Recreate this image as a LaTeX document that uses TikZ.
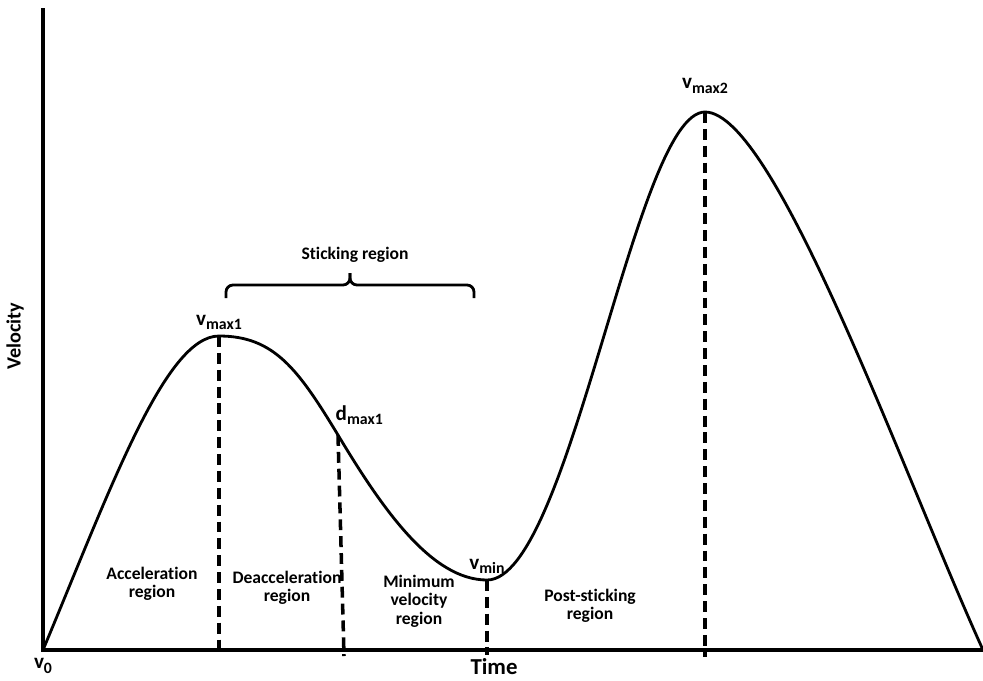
\documentclass[tikz,border=0pt]{standalone}
\usepackage{fontspec}
\setmainfont{Carlito}[Ligatures={TeX,NoCommon}]
\usetikzlibrary{positioning}
\newcommand{\lowidx}[1]{\raisebox{-2.5pt}{\fontsize{9}{9}\selectfont #1}}
\tikzset{
	every picture/.style={/utils/exec={\bfseries}},
	axisline/.style={line width=1.8pt, line join=miter},
	curve/.style={line width=1.6pt},
	dropline/.style={line width=2pt, dash pattern=on 6.2pt off 3.4pt},
	bracket/.style={line width=1.6pt, rounded corners=4pt},
	region/.style={align=center, font=\fontsize{10}{10.5}\selectfont\bfseries},
	peak/.style={font=\fontsize{12}{14}\selectfont\bfseries, inner sep=0.5pt},
	bigtext/.style={font=\fontsize{#1}{#1}\selectfont\bfseries},
}

\begin{document}
\begin{tikzpicture}[x=0.02cm, y=-0.02cm]
	\useasboundingbox (0,0) rectangle (983,680);
	\coordinate (ytop) at (43,8);
	\coordinate (origin) at (43,650);
	\coordinate (xend) at (983,650);
	\coordinate (vmaxA) at (219,336);
	\coordinate (dmax) at (338,435);
	\coordinate (vmin) at (487,580);
	\coordinate (vmaxB) at (705,112);
	\coordinate (dmaxfoot) at (344,656);
	\coordinate (vminfoot) at (487,655);
	\coordinate (vmaxBfoot) at (705,657);
	\coordinate (stickL) at (226,298);
	\coordinate (stickR) at (474,298);
	\coordinate (stickmid) at (350,285);
	\coordinate (sticktip) at (350,273);

	\draw[axisline] (ytop) -- (origin) -- (xend);
	\draw[curve] (origin) .. controls (110,490) and (165,336) .. (vmaxA)
		.. controls (274,336) and (298,369) .. (dmax)
		.. controls (383,510) and (432,580) .. (vmin)
		.. controls (570,580) and (635,112) .. (vmaxB)
		.. controls (775,112) and (903,474) .. (xend);

	\draw[dropline] (vmaxA) -- (vmaxA |- origin);
	\draw[dropline] (dmax) -- (dmaxfoot);
	\draw[dropline] (vmin) -- (vminfoot);
	\draw[dropline] (vmaxB) -- (vmaxBfoot);

	\draw[bracket] (stickL) |- (stickmid) -- (sticktip);
	\draw[bracket] (stickR) |- (stickmid) -- (sticktip);
	\node[region] (sticking) at (355,255) {Sticking region};

	\node[peak, above=3pt of vmaxA] (vmaxAlabel) {v\lowidx{max1}};
	\node[peak, above right=5pt and -2pt of dmax] (dmaxlabel) {d\lowidx{max1}};
	\node[peak, above=3pt of vmin] (vminlabel) {v\lowidx{min}};
	\node[peak, above=10pt of vmaxB] (vmaxBlabel) {v\lowidx{max2}};
	\node[peak] (vzero) at (43,666) {v\lowidx{0}};

	\node[region] (accel) at (152,584) {Acceleration\\region};
	\node[region] (decel) at (287,588) {Deacceleration\\region};
	\node[region] (minvel) at (419,601) {Minimum\\velocity\\region};
	\node[region] (post) at (590,606) {Post-sticking\\region};

	\node[bigtext=13] (time) at (494,667) {Time};
	\node[bigtext=11.5, rotate=90] (velocity) at (15,336) {Velocity};
\end{tikzpicture}
\end{document}
